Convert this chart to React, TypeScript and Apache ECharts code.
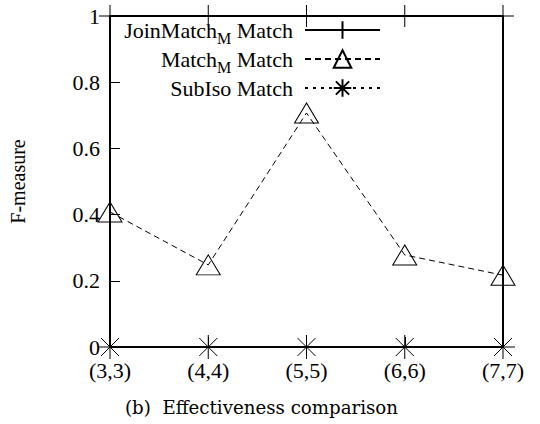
import React, { useEffect, useRef } from "react";
import * as echarts from "echarts";

const categories = ["(3,3)", "(4,4)", "(5,5)", "(6,6)", "(7,7)"];
const joinMatchValues = [1, 1, 1, 1, 1];
const matchMValues = [0.408, 0.248, 0.707, 0.278, 0.217];
const subIsoValues = [0, 0, 0, 0, 0];
const yTicks = { min: 0, max: 1, interval: 0.2 };

const FONT = "Liberation Serif";
const PLUS = "path://M0,-1 L0,1 M-1,0 L1,0";
const STAR = "path://M0,-1 L0,1 M-1,0 L1,0 M-0.75,-0.75 L0.75,0.75 M-0.75,0.75 L0.75,-0.75";

export default function App() {
  const ref = useRef<HTMLDivElement>(null);
  useEffect(() => {
    document.body.style.margin = "0";
    const chart = echarts.init(ref.current!, null, { renderer: "svg" });
    const markerStyle = { color: "rgba(0,0,0,0)", borderColor: "#000", borderWidth: 1 };
    chart.setOption({
      animation: false,
      textStyle: { fontFamily: FONT },
      title: {
        text: "(b)  Effectiveness comparison",
        left: 125,
        top: 398,
        padding: 0,
        textStyle: { fontFamily: "DejaVu Serif", fontSize: 18.2, fontWeight: "normal", color: "#000" },
      },
      legend: {
        orient: "vertical",
        right: 159,
        top: 14,
        padding: 0,
        align: "right",
        itemWidth: 75,
        itemHeight: 22,
        itemGap: -3,
        data: ["JoinMatch_M Match", "Match_M Match", "SubIso Match"],
        formatter: (name: string) => {
          if (name === "JoinMatch_M Match") return "{a|JoinMatch}{s|M}{a| Match}";
          if (name === "Match_M Match") return "{a|Match}{s|M}{a| Match}";
          return "{a|SubIso Match}{z| }";
        },
        textStyle: {
          color: "#000",
          fontFamily: FONT,
          padding: [0, 7, 0, 0],
          rich: {
            a: { fontFamily: FONT, fontSize: 22, color: "#000", lineHeight: 22, verticalAlign: "middle" },
            s: { fontFamily: FONT, fontSize: 16, color: "#000", lineHeight: 16, verticalAlign: "middle", padding: [16, 0, 0, 0] },
            z: { fontFamily: FONT, fontSize: 16, color: "#000", lineHeight: 16, verticalAlign: "middle", padding: [16, 0, 0, 0], width: 0 },
          },
        },
      },
      grid: { left: 106, top: 16, width: 397, height: 331, show: true, borderColor: "#000", borderWidth: 2, backgroundColor: "transparent" },
      xAxis: {
        type: "category",
        data: categories,
        boundaryGap: false,
        axisLine: { show: true, lineStyle: { color: "#000", width: 2 } },
        axisTick: { show: true, inside: true, length: 10, lineStyle: { color: "#000", width: 1 } },
        axisLabel: { color: "#000", fontFamily: FONT, fontSize: 22, margin: 12 },
        splitLine: { show: false },
      },
      yAxis: {
        type: "value",
        min: yTicks.min,
        max: yTicks.max,
        interval: yTicks.interval,
        name: "F-measure",
        nameLocation: "middle",
        nameRotate: 90,
        nameGap: 82,
        nameTextStyle: { color: "#000", fontFamily: FONT, fontSize: 20 },
        axisLine: { show: true, lineStyle: { color: "#000", width: 2 } },
        axisTick: { show: true, inside: true, length: 10, lineStyle: { color: "#000", width: 1 } },
        axisLabel: { color: "#000", fontFamily: FONT, fontSize: 22, margin: 10 },
        splitLine: { show: false },
      },
      series: [
        {
          name: "JoinMatch_M Match",
          type: "line",
          data: joinMatchValues,
          symbol: PLUS,
          symbolSize: 22,
          clip: false,
          itemStyle: markerStyle,
          lineStyle: { color: "#000", width: 1, type: "solid" },
        },
        {
          name: "Match_M Match",
          type: "line",
          data: matchMValues,
          symbol: "triangle",
          symbolSize: [24, 20],
          clip: false,
          itemStyle: markerStyle,
          lineStyle: { color: "#000", width: 1, type: [6, 4] },
        },
        {
          name: "SubIso Match",
          type: "line",
          data: subIsoValues,
          symbol: STAR,
          symbolSize: 24,
          clip: false,
          itemStyle: markerStyle,
          lineStyle: { color: "#000", width: 1, type: [3, 5] },
        },
      ],
    });
    return () => chart.dispose();
  }, []);
  return <div ref={ref} style={{ width: 540, height: 424 }} />;
}
